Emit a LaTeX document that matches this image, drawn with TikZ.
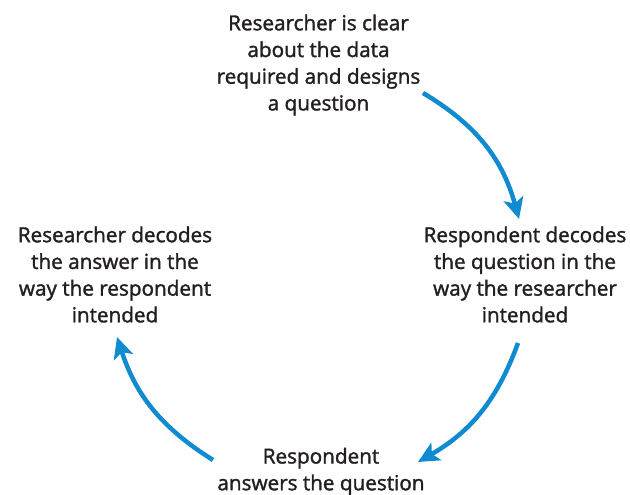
\documentclass[tikz,border=0pt]{standalone}
\usepackage{fontspec}
\setmainfont{Open Sans}[FakeBold=1.6]
\usetikzlibrary{arrows.meta}
\definecolor{txt}{HTML}{231F20}
\definecolor{cyc}{RGB}{16,139,207}
\begin{document}
\begin{tikzpicture}[x=1pt,y=-1pt,
  stage/.style={align=center, text=txt, inner sep=0pt,
    font=\fontsize{20.7}{26.7}\selectfont},
  flow/.style={draw=cyc, line width=4.5pt,
    -{Stealth[length=21pt,width=20pt,inset=5pt]}}]
\useasboundingbox (0,0) rectangle (630,495);
% the four stages of the question-and-answer cycle
\node[stage] (design) at (318.5,65) {Researcher is clear\\about the data\\required and designs\\a question};
\node[stage] (decodeq) at (525,274.5) {Respondent decodes\\the question in the\\way the researcher\\intended};
\node[stage] (answer) at (321,471.5) {Respondent\\answers the question};
\node[stage] (decodea) at (115,274.5) {Researcher decodes\\the answer in the\\way the respondent\\intended};
% arrow ends
\coordinate (a1) at (423,93);
\coordinate (b1) at (519,219);
\coordinate (a2) at (518,343);
\coordinate (b2) at (418,462);
\coordinate (a3) at (213,460);
\coordinate (b3) at (117,337);
\draw[flow] (a1) to[bend left=22] (b1);
\draw[flow] (a2) to[bend left=20] (b2);
\draw[flow] (a3) to[bend left=20] (b3);
\end{tikzpicture}
\end{document}
